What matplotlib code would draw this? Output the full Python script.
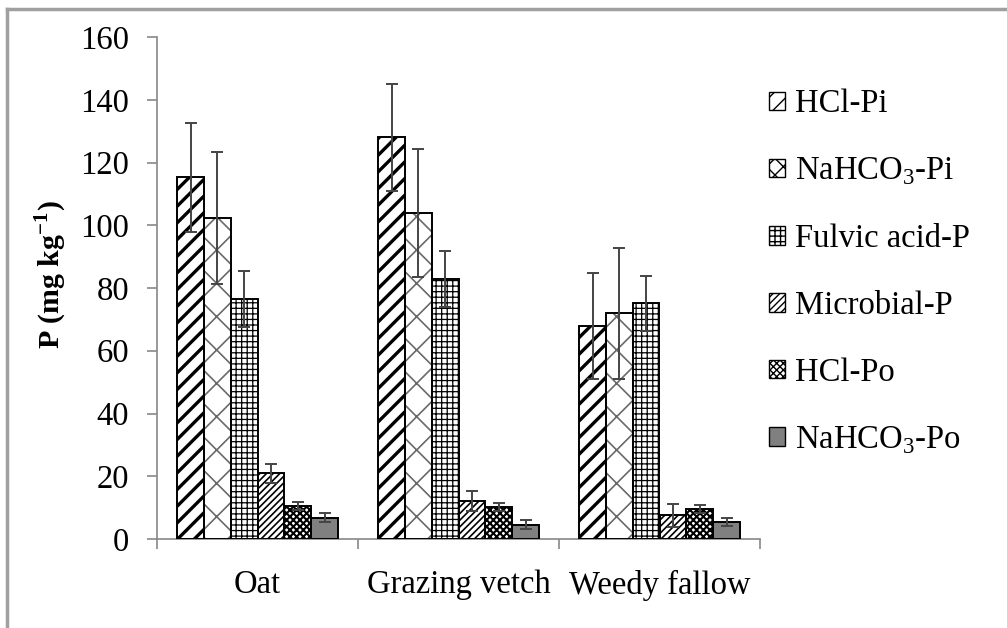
import matplotlib
matplotlib.use("Agg")
import matplotlib.pyplot as plt
import numpy as np
from matplotlib.patches import Patch

categories = ["Oat", "Grazing vetch", "Weedy fallow"]
series = ["HCl-Pi", "NaHCO$_3$-Pi", "Fulvic acid-P", "Microbial-P", "HCl-Po", "NaHCO$_3$-Po"]
hcl_pi = [115.3, 128.0, 67.9]
hcl_pi_err = [17.4, 17.0, 16.8]
nahco3_pi = [102.4, 103.8, 71.9]
nahco3_pi_err = [21.0, 20.4, 21.0]
fulvic_p = [76.5, 82.9, 75.1]
fulvic_p_err = [9.0, 9.0, 8.7]
microbial_p = [20.9, 12.2, 7.6]
microbial_p_err = [3.1, 3.2, 3.7]
hcl_po = [10.5, 10.3, 9.6]
hcl_po_err = [1.3, 1.3, 1.2]
nahco3_po = [6.8, 4.5, 5.5]
nahco3_po_err = [1.4, 1.4, 1.3]

values = [hcl_pi, nahco3_pi, fulvic_p, microbial_p, hcl_po, nahco3_po]
errors = [hcl_pi_err, nahco3_pi_err, fulvic_p_err, microbial_p_err, hcl_po_err, nahco3_po_err]

styles = [
    dict(face="white", hatch="//", hcolor="black", hlw=2.4, lhatch="//"),
    dict(face="white", hatch="x", hcolor="#6a6a6a", hlw=1.2, lhatch="xx"),
    dict(face="white", hatch="+++", hcolor="black", hlw=0.9, lhatch="+++"),
    dict(face="white", hatch="/////", hcolor="black", hlw=1.2, lhatch="/////"),
    dict(face="white", hatch="xxxxx", hcolor="black", hlw=1.5, lhatch="xxxxx"),
    dict(face="#808080", hatch=None, hcolor="black", hlw=1.0, lhatch=None),
]

FS = 23.5
plt.rcParams["font.family"] = ["Liberation Serif", "DejaVu Serif"]
plt.rcParams["mathtext.fontset"] = "custom"
plt.rcParams["mathtext.rm"] = "Liberation Serif"
plt.rcParams["mathtext.bf"] = "Liberation Serif:bold"

W, H = 1007, 628
fig = plt.figure(figsize=(W / 100, H / 100), dpi=100)
ax = fig.add_axes([157 / W, 1 - 539 / H, (760 - 157) / W, (539 - 37) / H])

x = np.arange(len(categories)) + 0.5
w = 0.8 / len(series)
for j, (vals, errs, st) in enumerate(zip(values, errors, styles)):
    pos = x + (j - 2.5) * w
    with plt.rc_context({"hatch.linewidth": st["hlw"], "hatch.color": st["hcolor"]}):
        bars = ax.bar(pos, vals, width=w, color=st["face"], hatch=st["hatch"],
                      edgecolor=st["hcolor"], linewidth=0, zorder=2)
        for b in bars:
            if hasattr(b, "set_hatch_linewidth"):
                b.set_hatch_linewidth(st["hlw"])
    ax.bar(pos, vals, width=w, facecolor="none", edgecolor="black", linewidth=1.4, zorder=3)
    ax.errorbar(pos, vals, yerr=errs, fmt="none", ecolor="#444444", elinewidth=1.4,
                capsize=4, capthick=1.4, zorder=4)

ax.set_xlim(0, 3)
ax.set_ylim(0, 160)
ax.set_yticks(np.arange(0, 161, 20))
ax.set_xticks([0, 1, 2, 3])
ax.set_xticklabels([])
ax.set_xticks(x, minor=True)
ax.set_xticklabels(categories, minor=True, fontsize=FS)
ax.tick_params(axis="x", which="minor", length=0, pad=22)
ax.tick_params(axis="x", which="major", direction="out", length=7, color="#888888", width=1.2)
ax.tick_params(axis="y", direction="out", length=7, color="#888888", width=1.2, labelsize=FS, pad=13)
for s in ["top", "right"]:
    ax.spines[s].set_visible(False)
for s in ["left", "bottom"]:
    ax.spines[s].set_color("#888888")
    ax.spines[s].set_linewidth(1.2)

fig.text(51 / W, 1 - 275 / H, "P (mg kg$^{\\mathbf{-1}}$)", rotation=90, fontsize=21.5,
         fontweight="bold", ha="center", va="center")

# legend
handles = []
for st in styles:
    with plt.rc_context({"hatch.linewidth": min(st["hlw"], 1.5), "hatch.color": "black"}):
        p = Patch(facecolor=st["face"], edgecolor="black", hatch=st["lhatch"], linewidth=1.0)
    handles.append(p)
ax.legend(handles, series, loc="upper left", bbox_to_anchor=(769 / W, 1 - 89 / H),
          bbox_transform=fig.transFigure, frameon=False, fontsize=FS,
          handlelength=0.5, handleheight=0.5, handletextpad=0.3, labelspacing=1.11,
          borderaxespad=0, borderpad=0)

# outer border
fig.add_artist(plt.Line2D([7 / W, 7 / W], [0, 1 - 9 / H], color="#a0a0a0", lw=2.5,
                          transform=fig.transFigure))
fig.add_artist(plt.Line2D([7 / W, 1], [1 - 9 / H, 1 - 9 / H], color="#a0a0a0", lw=2.5,
                          transform=fig.transFigure))

fig.savefig("out.png", dpi=100)
